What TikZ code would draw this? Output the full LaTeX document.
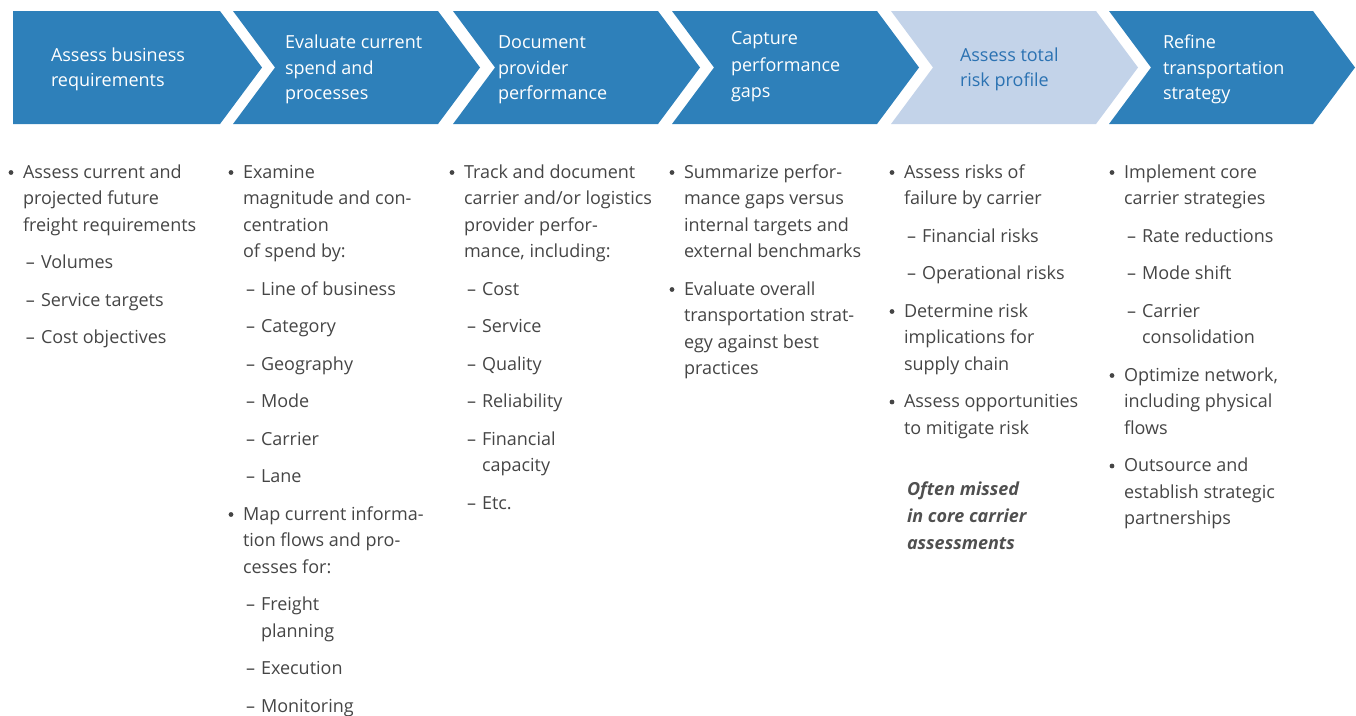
\documentclass[tikz,border=0pt]{standalone}
\usepackage{fontspec}
\setmainfont{Open Sans}
\definecolor{chev}{HTML}{2E80BA}
\definecolor{chevlt}{HTML}{C3D3E9}
\definecolor{chevtx}{HTML}{2B72B2}
\definecolor{bodytx}{HTML}{454545}
\definecolor{notetx}{HTML}{505050}
\newcounter{tl}
% text line at absolute x
\newcommand\tlx[3]{\stepcounter{tl}\node[txt] (t\arabic{tl}) at (#1,#2) {#3};}
% bullet line: T = text x
\newcommand\bul[3]{\stepcounter{tl}\node[bulsty] (b\arabic{tl}) at ({#1-12},{#2-5.5}) {};\tlx{#1}{#2}{#3}}
% sub item with dash
\newcommand\sub[3]{\stepcounter{tl}\node[dashsty] (d\arabic{tl}) at ({#1+7.5},#2) {–};\tlx{#1+18}{#2}{#3}}
\begin{document}
\begin{tikzpicture}[x=0.75pt,y=-0.75pt,
  txt/.style={anchor=base west,inner sep=0pt,outer sep=0pt,text=bodytx,font=\fontsize{13.5}{16}\selectfont},
  bulsty/.style={circle,fill=bodytx,minimum size=3.6pt,inner sep=0pt,outer sep=0pt},
  dashsty/.style={anchor=base,inner sep=0pt,outer sep=0pt,text=bodytx,font=\fontsize{13.5}{16}\selectfont},
  htxt/.style={anchor=base west,inner sep=0pt,outer sep=0pt,text=white,font=\fontsize{13.5}{16}\selectfont},
  note/.style={anchor=base west,inner sep=0pt,outer sep=0pt,text=notetx,font=\fontsize{13.5}{16}\selectfont\bfseries\itshape}]
\useasboundingbox (0,0) rectangle (1356,715);
% chevrons
\fill[chev] (13,11) -- (220,11) -- (262,67.5) -- (220,124) -- (13,124) -- cycle;
\fill[chev] (233,11) -- (438,11) -- (480,67.5) -- (438,124) -- (233,124) -- (275,67.5) -- cycle;
\fill[chev] (453,11) -- (658,11) -- (700,67.5) -- (658,124) -- (453,124) -- (495,67.5) -- cycle;
\fill[chev] (672,11) -- (877,11) -- (919,67.5) -- (877,124) -- (672,124) -- (714,67.5) -- cycle;
\fill[chevlt] (891,11) -- (1096,11) -- (1138,67.5) -- (1096,124) -- (891,124) -- (933,67.5) -- cycle;
\fill[chev] (1109,11) -- (1313,11) -- (1355,67.5) -- (1313,124) -- (1109,124) -- (1151,67.5) -- cycle;
% header texts
\node[htxt] (h1a) at (51,61) {Assess business};
\node[htxt] (h1b) at (51,86) {requirements};
\node[htxt] (h2a) at (285,48.5) {Evaluate current};
\node[htxt] (h2b) at (285,74) {spend and};
\node[htxt] (h2c) at (285,99.5) {processes};
\node[htxt] (h3a) at (498,48.5) {Document};
\node[htxt] (h3b) at (498,74) {provider};
\node[htxt] (h3c) at (498,99.5) {performance};
\node[htxt] (h4a) at (731,44.5) {Capture};
\node[htxt] (h4b) at (731,71) {performance};
\node[htxt] (h4c) at (731,97) {gaps};
\node[htxt,text=chevtx] (h5a) at (960,61) {Assess total};
\node[htxt,text=chevtx] (h5b) at (960,86) {risk profile};
\node[htxt] (h6a) at (1163,48.5) {Refine};
\node[htxt] (h6b) at (1163,74) {transportation};
\node[htxt] (h6c) at (1163,99.5) {strategy};
% column 1
\bul{23}{178}{Assess current and}
\tlx{23}{204.5}{projected future}
\tlx{23}{231}{freight requirements}
\sub{23}{268.5}{Volumes}
\sub{23}{306}{Service targets}
\sub{23}{343.5}{Cost objectives}
% column 2
\bul{243}{178}{Examine}
\tlx{243}{204.5}{magnitude and con-}
\tlx{243}{231}{centration}
\tlx{243}{257.5}{of spend by:}
\sub{243}{295}{Line of business}
\sub{243}{332.5}{Category}
\sub{243}{370}{Geography}
\sub{243}{407.5}{Mode}
\sub{243}{445}{Carrier}
\sub{243}{482.5}{Lane}
\bul{243}{520}{Map current informa-}
\tlx{243}{546.5}{tion flows and pro-}
\tlx{243}{573}{cesses for:}
\sub{243}{610.5}{Freight}
\tlx{261}{637}{planning}
\sub{243}{674.5}{Execution}
\sub{243}{712}{Monitoring}
% column 3
\bul{464}{178}{Track and document}
\tlx{464}{204.5}{carrier and/or logistics}
\tlx{464}{231}{provider perfor-}
\tlx{464}{257.5}{mance, including:}
\sub{464}{295}{Cost}
\sub{464}{332.5}{Service}
\sub{464}{370}{Quality}
\sub{464}{407.5}{Reliability}
\sub{464}{445}{Financial}
\tlx{482}{471.5}{capacity}
\sub{464}{509}{Etc.}
% column 4
\bul{684}{178}{Summarize perfor-}
\tlx{684}{204.5}{mance gaps versus}
\tlx{684}{231}{internal targets and}
\tlx{684}{257.5}{external benchmarks}
\bul{684}{295}{Evaluate overall}
\tlx{684}{321.5}{transportation strat-}
\tlx{684}{348}{egy against best}
\tlx{684}{374.5}{practices}
% column 5
\bul{904}{178}{Assess risks of}
\tlx{904}{204.5}{failure by carrier}
\sub{904}{242}{Financial risks}
\sub{904}{279.5}{Operational risks}
\bul{904}{317}{Determine risk}
\tlx{904}{343.5}{implications for}
\tlx{904}{370}{supply chain}
\bul{904}{407.5}{Assess opportunities}
\tlx{904}{434}{to mitigate risk}
\node[note] (n1) at (907,495) {Often missed};
\node[note] (n2) at (907,522) {in core carrier};
\node[note] (n3) at (907,549) {assessments};
% column 6
\bul{1124}{178}{Implement core}
\tlx{1124}{204.5}{carrier strategies}
\sub{1124}{242}{Rate reductions}
\sub{1124}{279.5}{Mode shift}
\sub{1124}{317}{Carrier}
\tlx{1142}{343.5}{consolidation}
\bul{1124}{381}{Optimize network,}
\tlx{1124}{407.5}{including physical}
\tlx{1124}{434}{flows}
\bul{1124}{471.5}{Outsource and}
\tlx{1124}{498}{establish strategic}
\tlx{1124}{524.5}{partnerships}
\end{tikzpicture}
\end{document}
